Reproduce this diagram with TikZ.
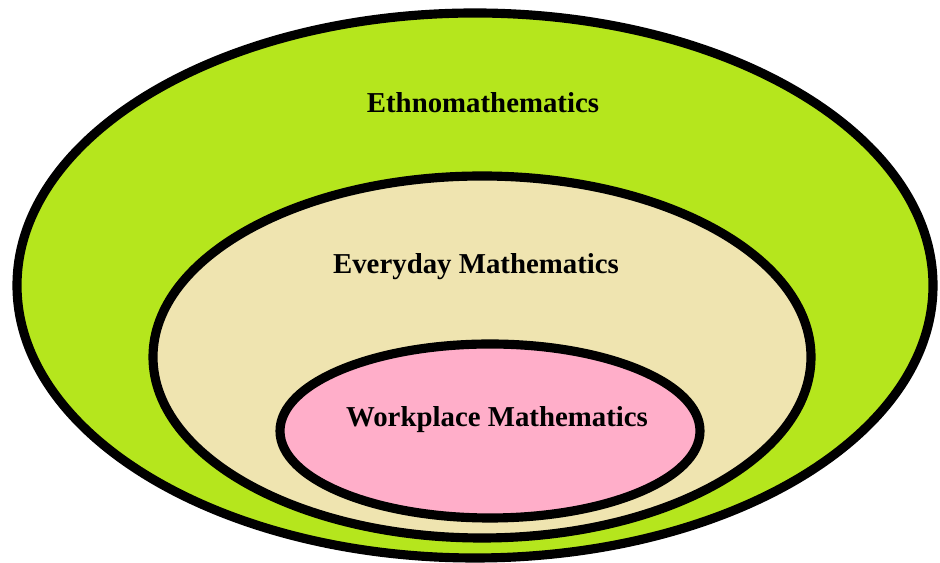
\documentclass[tikz,border=0pt]{standalone}
\usepackage{fontspec}
\setmainfont{Liberation Serif}
\usetikzlibrary{calc}
\definecolor{fethno}{HTML}{B5E61D}
\definecolor{fevery}{HTML}{EFE4B0}
\definecolor{fwork}{HTML}{FFAEC9}
\definecolor{sring}{HTML}{000000}
\tikzset{
  ring/.style={draw=sring,line width=6.5pt},
  lbl/.style={inner sep=0pt,font=\fontsize{20.5}{24}\selectfont\bfseries}
}
\begin{document}
\begin{tikzpicture}[x=0.025cm,y=0.025cm]
\useasboundingbox (0,0) rectangle (940,563);
\draw[ring,fill=fethno] (475,277.5) ellipse [x radius=458,y radius=272.5];
\draw[ring,fill=fevery] (482,206) ellipse [x radius=329,y radius=181];
\draw[ring,fill=fwork] (490,132) ellipse [x radius=210,y radius=87];
\node[lbl] (ethno) at (483,460) {Ethnomathematics};
\node[lbl] (every) at (476,296) {Everyday Mathematics};
\node[lbl] (work) at (497,143) {Workplace Mathematics};
\end{tikzpicture}
\end{document}
